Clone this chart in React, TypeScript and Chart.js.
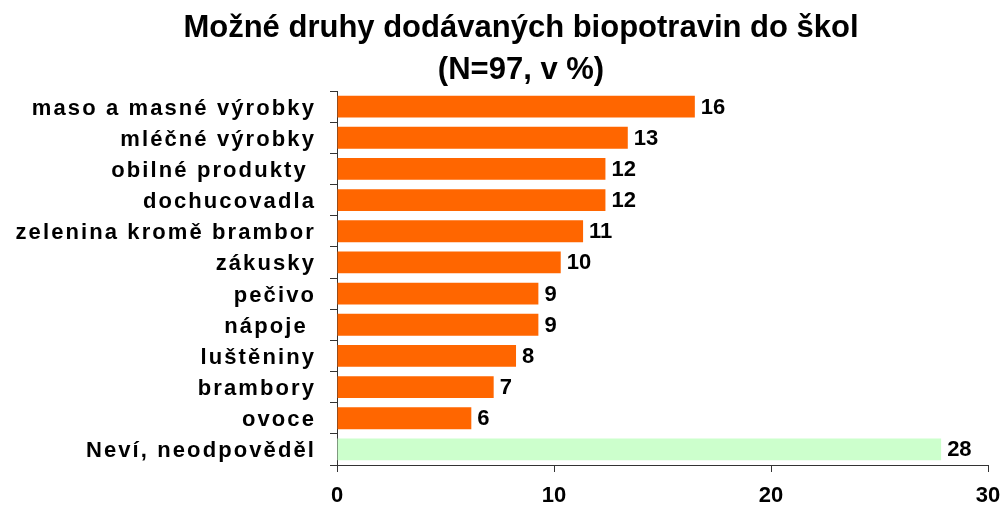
import React, { useEffect, useRef } from "react";
import { Chart, registerables } from "chart.js";

Chart.register(...registerables);

const categories = [
  "maso a masné výrobky",
  "mléčné výrobky",
  "obilné produkty ",
  "dochucovadla",
  "zelenina kromě brambor",
  "zákusky",
  "pečivo",
  "nápoje ",
  "luštěniny",
  "brambory",
  "ovoce",
  "Neví, neodpověděl",
];
const values = [16.49, 13.4, 12.37, 12.37, 11.34, 10.31, 9.28, 9.28, 8.25, 7.22, 6.19, 27.84];
const barColors = [
  "#FF6600", "#FF6600", "#FF6600", "#FF6600", "#FF6600", "#FF6600",
  "#FF6600", "#FF6600", "#FF6600", "#FF6600", "#FF6600", "#CCFFCC",
];
const titleLines = ["Možné druhy dodávaných biopotravin do škol", "(N=97, v %)"];
const xMin = 0;
const xMax = 30;
const xStep = 10;

const FONT = "'Liberation Sans', Arial, sans-serif";

const letterSpacingPlugin = {
  id: "yLetterSpacing",
  afterLayout(chart: any) {
    const s = chart.scales.y;
    if (s && !s._lsPatched) {
      const orig = s.drawLabels;
      s._computeLabelArea = () => undefined;
      s.drawLabels = function (area: any) {
        const c = this.ctx;
        c.save();
        (c as any).letterSpacing = "2.1px";
        c.translate(0, 2);
        orig.call(this, area);
        c.restore();
      };
      s._lsPatched = true;
    }
  },
};

const valueLabelPlugin = {
  id: "valueLabels",
  afterDatasetsDraw(chart: any) {
    const ctx = chart.ctx;
    const meta = chart.getDatasetMeta(0);
    ctx.save();
    ctx.font = `bold 22px ${FONT}`;
    ctx.fillStyle = "#000";
    ctx.textAlign = "left";
    ctx.textBaseline = "middle";
    meta.data.forEach((bar: any, i: number) => {
      const v = chart.data.datasets[0].data[i];
      ctx.fillText(String(Math.round(v)), bar.x + 6, bar.y + 1);
    });
    ctx.restore();
  },
};

export default function App() {
  const ref = useRef<HTMLCanvasElement | null>(null);
  useEffect(() => {
    if (!ref.current) return;
    const chart = new Chart(ref.current, {
      type: "bar",
      data: {
        labels: categories,
        datasets: [
          {
            data: values,
            backgroundColor: barColors,
            borderWidth: 0,
            categoryPercentage: 0.7,
            barPercentage: 1,
          },
        ],
      },
      options: {
        indexAxis: "y",
        animation: false,
        responsive: true,
        maintainAspectRatio: false,
        layout: { padding: { left: 45, right: 3, top: 0, bottom: 0 } },
        plugins: {
          legend: { display: false },
          tooltip: { enabled: false },
          title: {
            display: true,
            text: titleLines,
            color: "#000",
            font: { family: FONT, size: 31, weight: "bold", lineHeight: 1.355 },
            padding: { top: 7, bottom: 0 },
          },
        },
        scales: {
          x: {
            min: xMin,
            max: xMax,
            ticks: {
              stepSize: xStep,
              color: "#000",
              font: { family: FONT, size: 22, weight: "bold" },
              padding: 11,
              maxRotation: 0,
            },
            grid: {
              drawOnChartArea: false,
              drawTicks: true,
              tickLength: 7,
              color: "#333",
            },
            border: { color: "#333", width: 1 },
            afterFit: (s: any) => {
              s.height = 47;
              s.paddingRight = 12;
              s.paddingLeft = 0;
            },
          },
          y: {
            ticks: {
              color: "#000",
              font: { family: FONT, size: 22, weight: "bold" },
              padding: 14,
              autoSkip: false,
            },
            grid: {
              offset: true,
              drawOnChartArea: false,
              drawTicks: true,
              tickLength: 7,
              color: "#333",
            },
            border: { color: "#333", width: 1 },
            afterFit: (s: any) => {
              s.width = 292;
            },
          },
        },
      },
      plugins: [letterSpacingPlugin, valueLabelPlugin],
    });
    return () => chart.destroy();
  }, []);
  return (
    <div style={{ position: "fixed", left: 0, top: 0, width: 1000, height: 512, background: "#fff" }}>
      <canvas ref={ref} />
    </div>
  );
}
